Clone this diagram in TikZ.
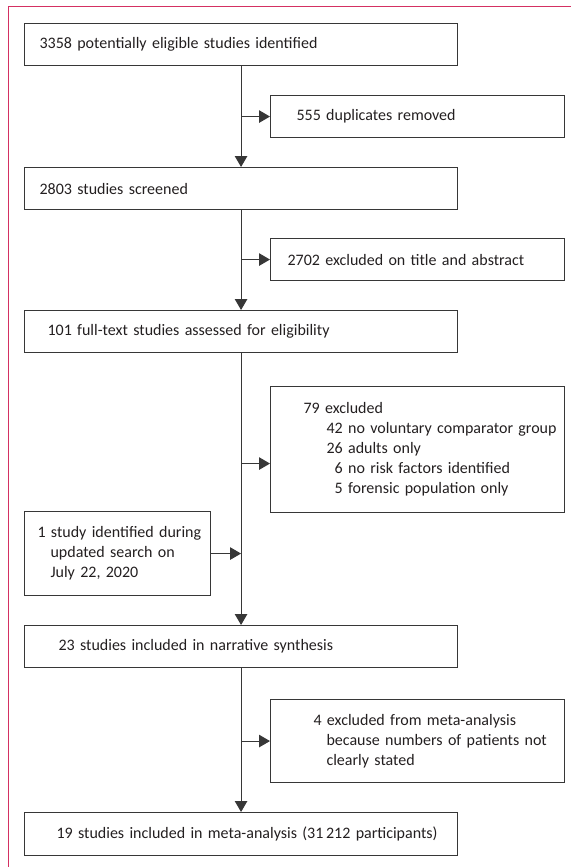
\documentclass[tikz,border=0pt]{standalone}
\usepackage{fontspec}
\setmainfont{Carlito}
\usetikzlibrary{arrows.meta}
\definecolor{lancetpink}{RGB}{212,48,98}
\definecolor{flowgray}{RGB}{55,55,55}
\definecolor{flowtext}{RGB}{35,31,32}

\begin{document}
\begin{tikzpicture}[x=1pt,y=-1pt,
  box/.style={draw=flowgray,line width=1.1pt,rectangle,anchor=north west,inner xsep=0pt,inner ysep=0pt,
    align=left,text=flowtext,font=\fontsize{16}{20}\selectfont},
  wide/.style={box,text width=433pt,minimum height=42pt},
  side/.style={box,text width=294pt,minimum height=42pt},
  flow/.style={draw=flowgray,line width=1.1pt,-{Triangle[length=11pt,width=12.5pt]}}]

\useasboundingbox (0,0) rectangle (571,867);
\draw [lancetpink,line width=0.8pt] (8,867) -- (8,6) -- (571,6);

\node [wide] (ident) at (24,23) {\hspace*{15pt}3358 potentially eligible studies identified};
\node [side] (dupl) at (270,95) {\hspace*{26pt}555 duplicates removed};
\node [wide] (screen) at (24,167) {\hspace*{15pt}2803 studies screened};
\node [side] (exclta) at (270,238) {\hspace*{17pt}2702 excluded on title and abstract};
\node [wide] (fulltext) at (24,310) {\hspace*{23pt}101 full-text studies assessed for eligibility};
\node [side,minimum height=126pt] (exclft) at (270,386) {\hspace*{33pt}79 excluded\\
  \hspace*{56pt}42 no voluntary comparator group\\
  \hspace*{56pt}26 adults only\\
  \hspace*{56pt}\phantom{0}6 no risk factors identified\\
  \hspace*{56pt}\phantom{0}5 forensic population only};
\node [box,text width=186pt,minimum height=84pt] (update) at (24,511) {\hspace*{13pt}1 study identified during\\
  \hspace*{26pt}updated search on\\
  \hspace*{26pt}July 22, 2020};
\node [wide] (narrative) at (24,625) {\hspace*{34pt}23 studies included in narrative synthesis};
\node [side,minimum height=83pt] (exclma) at (270,699) {\hspace*{43pt}4 excluded from meta-analysis\\
  \hspace*{56pt}because numbers of patients not\\
  \hspace*{56pt}clearly stated};
\node [wide,minimum height=43pt] (meta) at (24,812) {\hspace*{32pt}19 studies included in meta-analysis (31\,212 participants)};

\draw [flow] (ident) -- (screen);
\draw [flow] (screen) -- (fulltext);
\draw [flow] (fulltext) -- (narrative);
\draw [flow] (narrative) -- (meta);
\draw [flow] (ident.south |- dupl.west) -- (dupl.west);
\draw [flow] (screen.south |- exclta.west) -- (exclta.west);
\draw [flow] ([yshift=-14pt]fulltext.south |- exclft.west) -- ([yshift=-14pt]exclft.west);
\draw [flow] (update.east) -- (fulltext.south |- update.east);
\draw [flow] (narrative.south |- exclma.west) -- (exclma.west);
\end{tikzpicture}
\end{document}
